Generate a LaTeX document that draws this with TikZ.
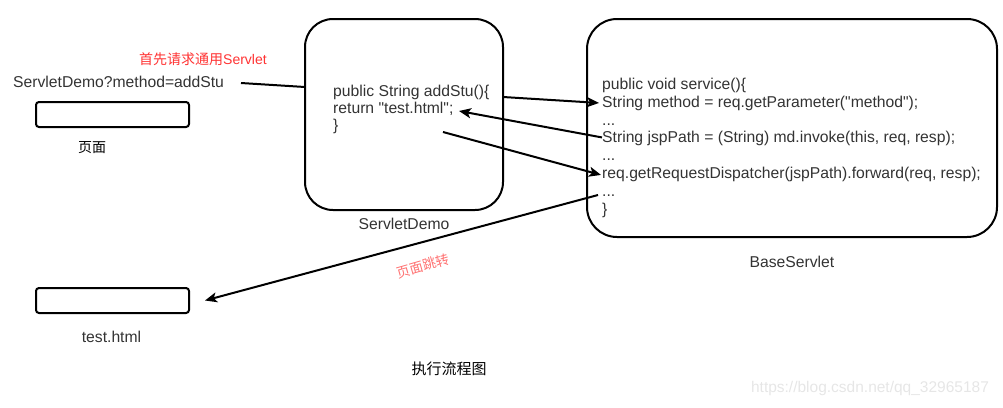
\documentclass[tikz,border=0pt]{standalone}
\usepackage{fontspec}
\setmainfont{Liberation Sans}
\newfontfamily\cjk{Noto Sans CJK SC}
\usetikzlibrary{arrows.meta,calc}
\definecolor{txt}{HTML}{333333}
\definecolor{redtxt}{HTML}{FF3333}
\definecolor{pinktxt}{HTML}{FF7070}
\definecolor{wm}{HTML}{E6E6E6}
\begin{document}
\begin{tikzpicture}[x=1pt,y=-1pt,
  lat/.style={inner sep=0pt,anchor=base west,text=txt,font=\fontsize{15.7}{17.8}\selectfont},
  latc/.style={inner sep=0pt,anchor=base,text=txt,font=\fontsize{15.7}{17.8}\selectfont},
  bigbox/.style={draw=black,line width=2pt,rounded corners=28pt},
  pagebox/.style={draw=black,line width=2pt,rounded corners=3pt,minimum width=153pt,minimum height=25pt,inner sep=0pt},
  arr/.style={line width=2pt,-{Stealth[length=12pt,width=10pt,inset=3pt]}},
  plain/.style={line width=2pt}]
\useasboundingbox (0,0) rectangle (1003,407);
% left side
\node[lat] (url) at (13,87) {ServletDemo?method=addStu};
\node[inner sep=0pt,anchor=base west,text=redtxt,font=\fontsize{14}{16}\selectfont] (first) at (139,64) {\cjk 首先请求通用\rmfamily Servlet};
\node[pagebox] (page) at (112.5,114.5) {};
\node[inner sep=0pt,anchor=base,font=\fontsize{14}{16}\selectfont\cjk] (pagelbl) at (92,152) {页面};
\node[pagebox] (test) at (112.5,300.5) {};
\node[latc] (testlbl) at (111.5,342) {test.html};
% ServletDemo box
\draw[bigbox] (305,19) rectangle (503,210);
\node[lat] (addstu) at (333,96) {public String addStu()\{};
\node[lat] (ret) at (333,113) {return \textquotedbl test.html\textquotedbl;};
\node[lat] (rb1) at (333,130) {\}};
\node[latc] (sdlbl) at (404,229) {ServletDemo};
% BaseServlet box
\draw[bigbox,rounded corners=30pt] (587,19) rectangle (997,237);
\node[lat] (svc) at (602,89) {public void service()\{};
\node[lat] (method) at (602,107) {String method = req.getParameter(\textquotedbl method\textquotedbl);};
\node[lat] (d1) at (602,125) {...};
\node[lat] (jsp) at (602,142.5) {String jspPath = (String) md.invoke(this, req, resp);};
\node[lat] (d2) at (602,160) {...};
\node[lat] (fwd) at (602,178) {req.getRequestDispatcher(jspPath).forward(req, resp);};
\node[lat] (d3) at (602,196) {...};
\node[lat] (rb2) at (602,214) {\}};
\node[latc] (bslbl) at (792,267) {BaseServlet};
% connectors
\coordinate (urlend) at (241,83);
\coordinate (sdin) at (305,87);
\draw[plain] (urlend) -- (sdin);
\coordinate (a1s) at (503,97);
\draw[arr] (a1s) -- ([xshift=-3pt]method.west);
\coordinate (a2e) at (459,111);
\draw[arr] ([yshift=1pt]jsp.west) -- (a2e);
\coordinate (a3s) at (443,132);
\draw[arr] (a3s) -- ([xshift=-1pt,yshift=-1pt]fwd.west);
\coordinate (a4s) at (598,195);
\draw[arr] (a4s) -- ($(test.east)+(15,0)$);
\node[inner sep=0pt,rotate=16,text=pinktxt,font=\fontsize{13.5}{15}\selectfont\cjk] (jump) at (423,266) {页面跳转};
% title and watermark
\node[inner sep=0pt,anchor=base,font=\fontsize{15}{17}\selectfont\cjk] (title) at (449,374) {执行流程图};
\node[inner sep=0pt,anchor=base,text=wm,font=\fontsize{15.5}{17}\selectfont] (wmk) at (870,392) {https://blog.csdn.net/qq\_32965187};
\end{tikzpicture}
\end{document}
